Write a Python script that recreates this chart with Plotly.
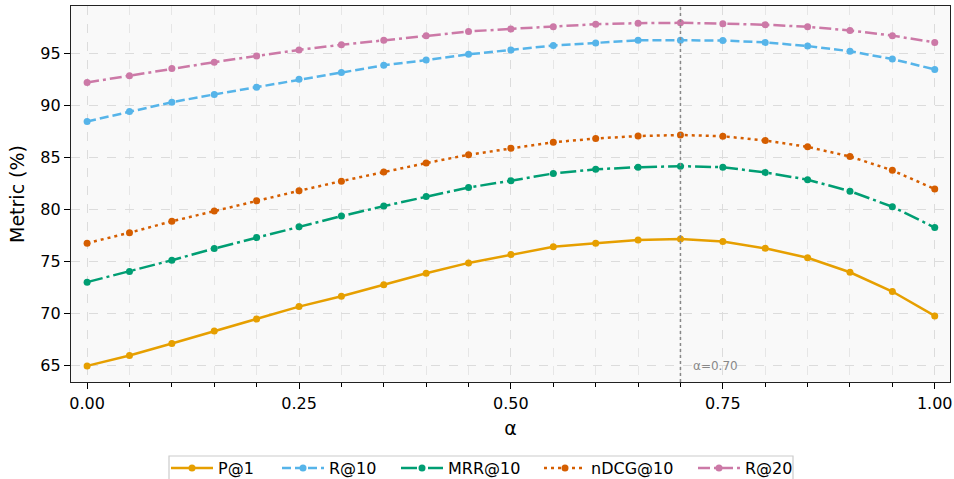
import plotly.graph_objects as go

alpha = [0.0, 0.05, 0.1, 0.15, 0.2, 0.25, 0.3, 0.35, 0.4, 0.45, 0.5,
         0.55, 0.6, 0.65, 0.7, 0.75, 0.8, 0.85, 0.9, 0.95, 1.0]

p_at_1 = [65.0, 66.0, 67.15, 68.35, 69.5, 70.7, 71.7, 72.8, 73.9, 74.9, 75.7,
          76.45, 76.8, 77.1, 77.2, 76.95, 76.3, 75.4, 74.0, 72.15, 69.8]
r_at_10 = [88.5, 89.45, 90.35, 91.1, 91.8, 92.55, 93.2, 93.9, 94.4, 94.95, 95.38,
           95.8, 96.05, 96.3, 96.3, 96.28, 96.1, 95.75, 95.25, 94.5, 93.5]
mrr_at_10 = [73.05, 74.07, 75.16, 76.28, 77.34, 78.37, 79.4, 80.36, 81.28, 82.15, 82.8,
             83.5, 83.9, 84.1, 84.2, 84.1, 83.6, 82.9, 81.8, 80.3, 78.3]
ndcg_at_10 = [76.8, 77.8, 78.9, 79.9, 80.87, 81.83, 82.76, 83.65, 84.5, 85.3, 85.93,
              86.5, 86.86, 87.1, 87.2, 87.08, 86.66, 86.06, 85.13, 83.8, 82.0]
r_at_20 = [92.25, 92.9, 93.6, 94.2, 94.8, 95.38, 95.87, 96.3, 96.73, 97.15, 97.4,
           97.6, 97.85, 97.95, 97.98, 97.9, 97.8, 97.6, 97.25, 96.75, 96.1]

best_alpha = 0.70
x_ticks = [0.0, 0.25, 0.5, 0.75, 1.0]
x_tick_labels = ["0.00", "0.25", "0.50", "0.75", "1.00"]
y_ticks = [65, 70, 75, 80, 85, 90, 95]

series = [
    ("P@1", p_at_1, "#E69F00", "solid"),
    ("R@10", r_at_10, "#56B4E9", "9px,4px"),
    ("MRR@10", mrr_at_10, "#009E73", "16px,4px,3px,4px"),
    ("nDCG@10", ndcg_at_10, "#D55E00", "3px,4px"),
    ("R@20", r_at_20, "#CC79A7", "12px,4px,3px,4px"),
]

# plot area geometry (pixels)
L, R, T, B = 71, 4, 6, 97
W, H = 954, 479
pw, ph = W - L - R, H - T - B

def px_x(p):
    return (p - L) / pw

def px_y(p):
    return (H - B - p) / ph

legend_starts = [166, 277, 396, 539, 693]

fig = go.Figure()
for i, (name, vals, color, dash) in enumerate(series):
    lg = "legend" if i == 0 else f"legend{i + 1}"
    fig.add_trace(go.Scatter(
        x=alpha, y=vals, name=name, mode="lines+markers",
        line=dict(color=color, width=2.5, dash=dash),
        marker=dict(color=color, size=7, symbol="circle"),
        legend=lg,
    ))

legend_common = dict(orientation="h", yanchor="middle", y=px_y(468), xanchor="left",
                     borderwidth=0, bgcolor="rgba(0,0,0,0)", font=dict(size=16, color="black"),
                     itemwidth=42)
layout_legends = {}
for i, xs in enumerate(legend_starts):
    key = "legend" if i == 0 else f"legend{i + 1}"
    layout_legends[key] = dict(x=px_x(xs), **legend_common)

# legend frame
fig.add_shape(type="rect", xref="paper", yref="paper",
              x0=px_x(169), x1=px_x(793), y0=px_y(456), y1=px_y(485),
              line=dict(color="#cccccc", width=1.2), fillcolor="white", layer="below")

fig.add_vline(x=best_alpha, line=dict(color="#888888", width=1.5, dash="dot"))
fig.add_annotation(x=best_alpha + 0.013, y=65.0, text=f"α={best_alpha:.2f}",
                   showarrow=False, xanchor="left", yanchor="middle",
                   font=dict(size=12, color="#888888"))

grid = dict(showgrid=True, gridcolor="#dcdcdc", gridwidth=0.8, griddash="dash")
fig.update_xaxes(
    range=[-0.019, 1.018], tickvals=x_ticks, ticktext=x_tick_labels, automargin=False,
    ticks="outside", ticklen=6, tickwidth=1.2, tickcolor="black", ticklabelstandoff=1,
    showline=True, linecolor="#222222", linewidth=1.2, mirror=True,
    minor=dict(dtick=0.05, tick0=0, ticks="outside", ticklen=3.5, tickcolor="black",
               showgrid=True, gridcolor="#e6e6e6", griddash="dash", gridwidth=0.8),
    title=dict(text="α", font=dict(size=19, color="black"), standoff=9),
    tickfont=dict(size=16, color="black"), zeroline=False, **grid,
)
fig.update_yaxes(
    range=[63.45, 99.6], tickvals=y_ticks, automargin=False,
    ticks="outside", ticklen=6, tickwidth=1.2, tickcolor="black",
    showline=True, linecolor="#222222", linewidth=1.2, mirror=True,
    title=dict(text="Metric (%)", font=dict(size=19, color="black"), standoff=10),
    tickfont=dict(size=16, color="black"), zeroline=False, **grid,
)

fig.update_layout(
    width=W, height=H,
    margin=dict(l=L, r=R, t=T, b=B, autoexpand=False),
    paper_bgcolor="white", plot_bgcolor="#f9f9f9",
    font=dict(family="DejaVu Sans", color="black"),
    showlegend=True,
    **layout_legends,
)

fig.write_html("out.html", config={"displayModeBar": False},
               post_script="document.body.style.margin='0';")
